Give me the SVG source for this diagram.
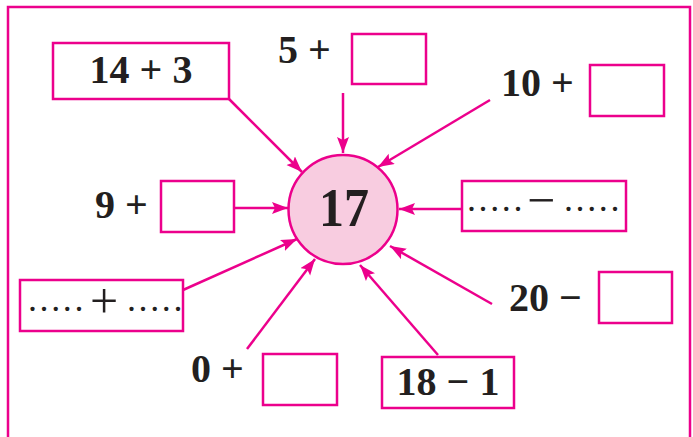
<svg xmlns="http://www.w3.org/2000/svg" width="693" height="437" viewBox="0 0 693 437">
<defs>
<style>
.frame{fill:none;stroke:#ec008c;stroke-width:2.5}
.box{fill:#fff;stroke:#ec008c;stroke-width:2.5}
.conn{stroke:#ec008c;stroke-width:2.5;fill:none;marker-end:url(#ah)}
.b{font-family:"Liberation Serif","Times New Roman",serif;font-weight:bold;font-size:40px;fill:#231f20}
.d{font-family:"Liberation Serif","Times New Roman",serif;font-size:36px;letter-spacing:2.6px;fill:#231f20}
.s{font-family:"Liberation Serif","Times New Roman",serif;font-size:50px;fill:#231f20}
</style>
<marker id="ah" markerUnits="userSpaceOnUse" markerWidth="18" markerHeight="14" refX="16" refY="6" orient="auto">
<path d="M0,0 L16,6 L0,12 L3,6 z" fill="#ec008c"/>
</marker>
</defs>
<rect width="693" height="437" fill="#fff"/>
<path class="frame" d="M8,440 L8,7 L690,7 L690,440"/>
<g id="connectors">
<line class="conn" x1="229" y1="99" x2="302" y2="172"/>
<line class="conn" x1="343" y1="93" x2="343" y2="153"/>
<line class="conn" x1="490" y1="100" x2="378" y2="167"/>
<line class="conn" x1="234" y1="208" x2="288" y2="208"/>
<line class="conn" x1="462" y1="209" x2="399" y2="209"/>
<line class="conn" x1="183" y1="290" x2="297" y2="239"/>
<line class="conn" x1="247" y1="349" x2="315" y2="259"/>
<line class="conn" x1="492" y1="304" x2="390" y2="246"/>
<line class="conn" x1="438" y1="355" x2="360" y2="265"/>
</g>
<g id="center">
<circle cx="343" cy="209.5" r="54.5" fill="#f8cce0" stroke="#ec008c" stroke-width="2.5"/>
<text x="344" y="226" text-anchor="middle" class="b" style="font-size:55px" textLength="50" lengthAdjust="spacingAndGlyphs">17</text>
</g>
<g id="n14plus3">
<rect class="box" x="53" y="43" width="176" height="56"/>
<text x="141" y="83" text-anchor="middle" class="b">14 + 3</text>
</g>
<g id="n5plus">
<text x="278" y="63" class="b">5 +</text>
<rect class="box" x="352" y="34" width="74" height="50"/>
</g>
<g id="n10plus">
<text x="501" y="96" class="b">10 +</text>
<rect class="box" x="590" y="65" width="74" height="51"/>
</g>
<g id="n9plus">
<text x="95" y="218" class="b">9 +</text>
<rect class="box" x="161" y="181" width="73" height="51"/>
</g>
<g id="nminus">
<rect class="box" x="462" y="181" width="164" height="50"/>
<text x="467" y="211" class="d">.....</text>
<text x="541" y="217" text-anchor="middle" class="s">−</text>
<text x="564" y="211" class="d">.....</text>
</g>
<g id="nplus">
<rect class="box" x="20" y="280" width="163" height="51"/>
<text x="28" y="311" class="d">.....</text>
<text x="104" y="318" text-anchor="middle" class="s">+</text>
<text x="127" y="311" class="d">.....</text>
</g>
<g id="n0plus">
<text x="191" y="382" class="b">0 +</text>
<rect class="box" x="263" y="354" width="74" height="51"/>
</g>
<g id="n20minus">
<text x="509" y="311" class="b">20 −</text>
<rect class="box" x="599" y="272" width="73" height="51"/>
</g>
<g id="n18minus1">
<rect class="box" x="382" y="357" width="132" height="51"/>
<text x="448" y="395" text-anchor="middle" class="b">18 − 1</text>
</g>
</svg>
